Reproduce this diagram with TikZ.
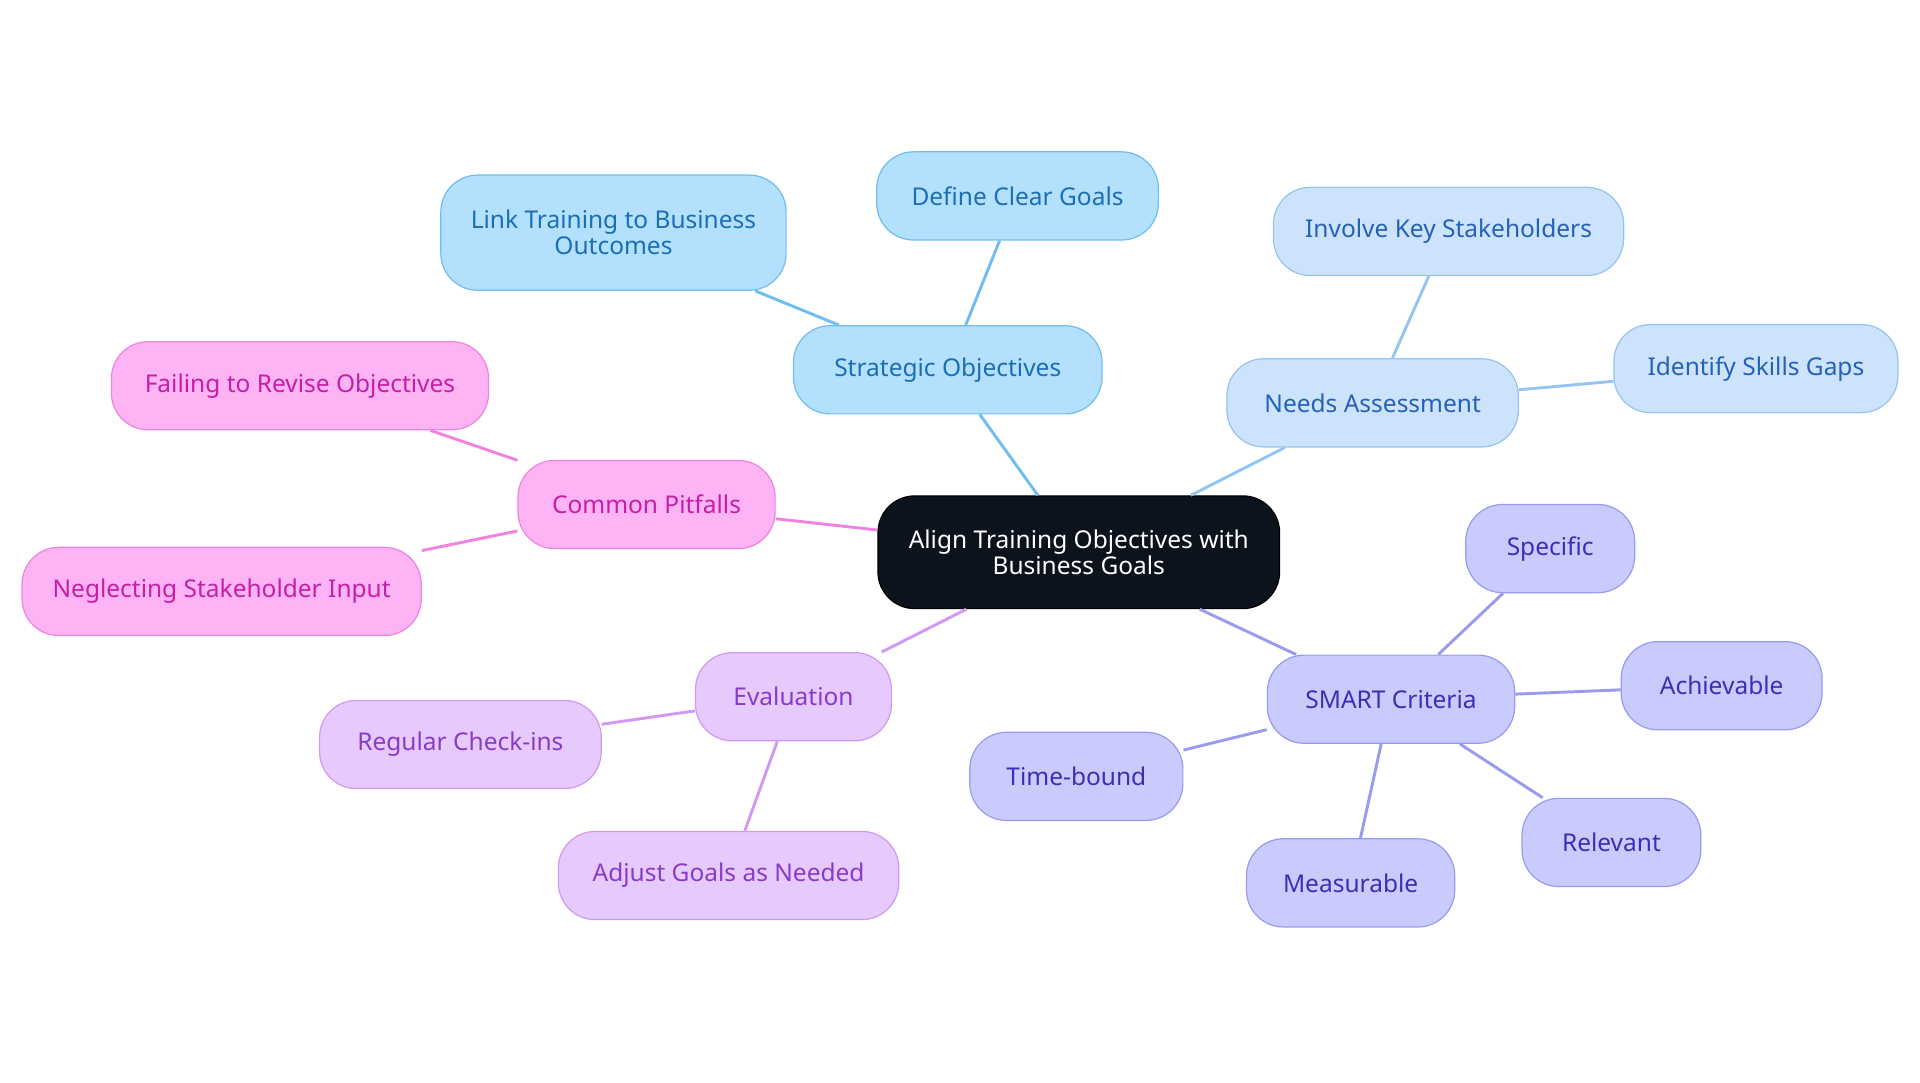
\documentclass[tikz,border=0pt]{standalone}
\usepackage{fontspec}
\setmainfont{Noto Sans}
\begin{document}
\begin{tikzpicture}[x=0.5pt,y=-0.5pt,
 base/.style={draw,rounded corners=15pt,line width=0.5pt,align=center,font=\fontsize{10}{10.5}\selectfont,inner sep=0pt,minimum height=36pt},
 blue/.style={base,fill=blue1f,draw=blue1d,text=blue1t},
 lblue/.style={base,fill=blue2f,draw=blue2d,text=blue2t},
 viol/.style={base,fill=vf,draw=vd,text=vt},
 purp/.style={base,fill=pf,draw=pd,text=pt},
 pink/.style={base,fill=kf,draw=kd,text=kt},
 e/.style={line width=1.2pt}]
\definecolor{blue1f}{HTML}{B3E0FD}\definecolor{blue1d}{HTML}{72BDF0}\definecolor{blue1t}{HTML}{1A6FB5}
\definecolor{blue2f}{HTML}{CCE3FB}\definecolor{blue2d}{HTML}{96C4F0}\definecolor{blue2t}{HTML}{2462B8}
\definecolor{vf}{HTML}{CACBFD}\definecolor{vd}{HTML}{9A9BEF}\definecolor{vt}{HTML}{3A2FB5}
\definecolor{pf}{HTML}{E7CAFD}\definecolor{pd}{HTML}{CF9AF0}\definecolor{pt}{HTML}{8A3AC9}
\definecolor{kf}{HTML}{FDB3F4}\definecolor{kd}{HTML}{F083E0}\definecolor{kt}{HTML}{C51FA8}
\useasboundingbox (0,0) rectangle (1568,884);
\node[base,fill={rgb,255:red,13;green,19;blue,28},text=white,minimum width=164pt,minimum height=46pt] (c) at (881,451) {Align Training Objectives with\\Business Goals};
\node[blue,minimum width=126pt] (so) at (774,302) {Strategic Objectives};
\node[blue,minimum width=141pt,minimum height=47pt] (lt) at (501,190) {Link Training to Business\\Outcomes};
\node[blue,minimum width=115pt] (dg) at (831,160) {Define Clear Goals};
\node[lblue,minimum width=119pt] (na) at (1121,329) {Needs Assessment};
\node[lblue,minimum width=143pt] (ik) at (1183,189) {Involve Key Stakeholders};
\node[lblue,minimum width=116pt] (is) at (1434,301) {Identify Skills Gaps};
\node[viol,minimum width=101pt] (sm) at (1136,571) {SMART Criteria};
\node[viol,minimum width=69pt] (sp) at (1266,448) {Specific};
\node[viol,minimum width=82pt] (ac) at (1406,560) {Achievable};
\node[viol,minimum width=73pt] (re) at (1316,688) {Relevant};
\node[viol,minimum width=85pt] (me) at (1103,721) {Measurable};
\node[viol,minimum width=87pt] (tb) at (879,634) {Time-bound};
\node[purp,minimum width=80pt] (ev) at (648,569) {Evaluation};
\node[purp,minimum width=115pt] (rc) at (376,608) {Regular Check-ins};
\node[purp,minimum width=139pt] (ag) at (595,715) {Adjust Goals as Needed};
\node[pink,minimum width=105pt] (cp) at (528,412) {Common Pitfalls};
\node[pink,minimum width=154pt] (fr) at (245,315) {Failing to Revise Objectives};
\node[pink,minimum width=163pt] (ns) at (181,483) {Neglecting Stakeholder Input};
\begin{scope}[on background layer/.try]
\end{scope}
\begin{pgfinterruptboundingbox}\end{pgfinterruptboundingbox}
\foreach \a/\b/\col in {c/so/blue1d,so/lt/blue1d,so/dg/blue1d,c/na/blue2d,na/ik/blue2d,na/is/blue2d,c/sm/vd,sm/sp/vd,sm/ac/vd,sm/re/vd,sm/me/vd,sm/tb/vd,c/ev/pd,ev/rc/pd,ev/ag/pd,c/cp/kd,cp/fr/kd,cp/ns/kd}
  \draw[e,draw=\col] (\a) -- (\b);
\end{tikzpicture}
\end{document}
